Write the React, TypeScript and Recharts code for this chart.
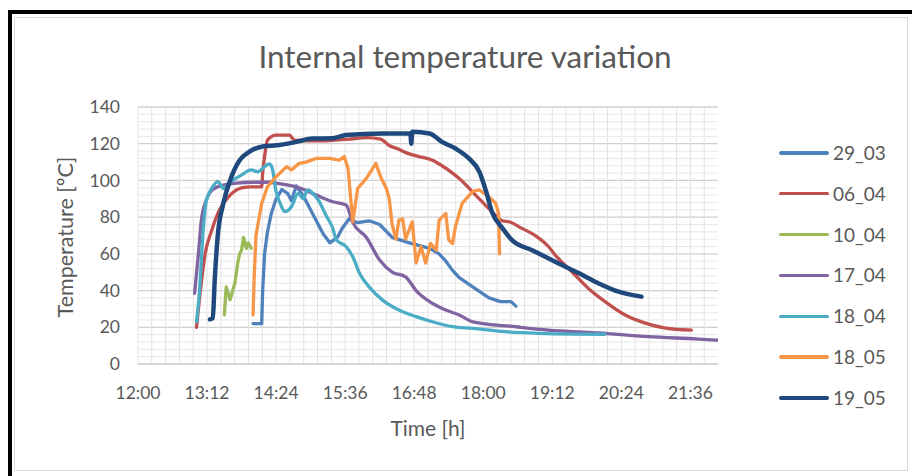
import { CartesianGrid, Line, LineChart, ReferenceLine, XAxis, YAxis } from "recharts";

type Pt = [string, number];

// readings per test day: [clock time, temperature ºC]
const day29_03: Pt[] = [
  ["14:00", 22], ["14:09", 22], ["14:10", 40], ["14:12", 60], ["14:15", 72],
  ["14:19", 82], ["14:24", 90], ["14:30", 95], ["14:36", 93], ["14:40", 89],
  ["14:45", 97], ["14:52", 92], ["14:59", 85], ["15:07", 77], ["15:13", 71],
  ["15:20", 66], ["15:28", 69], ["15:33", 74], ["15:40", 79], ["15:49", 77],
  ["16:01", 78], ["16:12", 76], ["16:25", 69], ["16:43", 66], ["17:04", 63],
  ["17:14", 60], ["17:21", 56], ["17:28", 51], ["17:35", 47], ["17:49", 42],
  ["18:06", 36], ["18:18", 34], ["18:29", 34], ["18:34", 31.5],
];

const day06_04: Pt[] = [
  ["13:01", 20], ["13:04", 35], ["13:10", 60], ["13:17", 73], ["13:25", 84],
  ["13:36", 92], ["13:48", 96], ["13:58", 96.5], ["14:09", 96.5], ["14:10", 104],
  ["14:12", 113], ["14:15", 122], ["14:24", 124.7], ["14:38", 124.7], ["14:43", 122],
  ["15:10", 121.5], ["15:40", 122.5], ["15:58", 123.3], ["16:13", 122.5], ["16:22", 119],
  ["16:32", 117], ["16:40", 115], ["16:53", 113], ["17:07", 111], ["17:17", 108],
  ["17:28", 104], ["17:35", 101], ["17:52", 92], ["18:09", 83], ["18:20", 78],
  ["18:27", 77.5], ["18:40", 74], ["18:51", 71], ["18:58", 68.6], ["19:08", 64],
  ["19:15", 59.4], ["19:33", 50], ["19:50", 41], ["20:07", 34], ["20:28", 26.7],
  ["20:49", 22.3], ["21:10", 19.6], ["21:37", 18.5],
];

const day10_04: Pt[] = [
  ["13:30", 26.7], ["13:32", 42], ["13:36", 35], ["13:41", 44], ["13:44", 55],
  ["13:46", 60], ["13:48", 62], ["13:50", 69], ["13:53", 63], ["13:55", 66],
  ["13:58", 63],
];

const day17_04: Pt[] = [
  ["12:59", 38.5], ["13:03", 60], ["13:06", 78], ["13:11", 89], ["13:18", 95],
  ["13:29", 97.5], ["13:43", 98.5], ["14:00", 99], ["14:17", 99], ["14:24", 98.5],
  ["14:48", 96], ["15:06", 92], ["15:23", 88.4], ["15:37", 86.6], ["15:44", 77],
  ["15:58", 69], ["16:12", 56.6], ["16:25", 50], ["16:39", 47.5], ["16:50", 40],
  ["17:07", 33], ["17:21", 29.4], ["17:35", 26.7], ["17:49", 23], ["18:34", 20.3],
  ["19:08", 18.5], ["20:00", 16.9], ["20:52", 14.9], ["21:44", 13.6], ["22:04", 13],
];

const day18_04: Pt[] = [
  ["13:01", 23], ["13:04", 38.6], ["13:08", 73], ["13:11", 88], ["13:15", 94],
  ["13:18", 96.6], ["13:23", 99.4], ["13:27", 97], ["13:29", 95.6], ["13:37", 99.4],
  ["13:48", 103], ["13:58", 105.7], ["14:05", 104.7], ["14:12", 107.5], ["14:17", 109],
  ["14:20", 106.6], ["14:24", 94], ["14:29", 86.6], ["14:33", 83], ["14:40", 85.7],
  ["14:47", 93], ["14:52", 90], ["14:57", 94.8], ["15:04", 92], ["15:09", 88.4],
  ["15:16", 81], ["15:23", 74], ["15:27", 67.5], ["15:37", 64], ["15:44", 58.4],
  ["15:51", 49.4], ["16:01", 42], ["16:15", 34.8], ["16:32", 29.4], ["16:50", 25.8],
  ["17:07", 23], ["17:28", 20.3], ["17:49", 19.4], ["18:23", 17.6], ["18:58", 16.7],
  ["19:33", 16.3], ["20:07", 16.2],
];

const day18_05: Pt[] = [
  ["14:00", 26.7], ["14:01", 45], ["14:03", 70], ["14:09", 87.5], ["14:15", 96.6],
  ["14:24", 102], ["14:35", 107.5], ["14:40", 105.7], ["14:48", 109.3], ["14:55", 110],
  ["15:06", 112], ["15:20", 112], ["15:30", 111], ["15:35", 113], ["15:39", 106.6],
  ["15:44", 77.5], ["15:49", 95.6], ["15:58", 101], ["16:08", 109.3], ["16:13", 102],
  ["16:19", 95.6], ["16:22", 90], ["16:25", 76], ["16:29", 68], ["16:32", 78.4],
  ["16:36", 79], ["16:39", 68], ["16:46", 77.5], ["16:50", 55], ["16:55", 64],
  ["17:00", 55], ["17:05", 65.7], ["17:11", 62], ["17:14", 78.4], ["17:21", 82],
  ["17:24", 67.5], ["17:28", 65.7], ["17:31", 74.8], ["17:38", 87.5], ["17:49", 94],
  ["17:56", 94.8], ["18:06", 91], ["18:13", 87.5], ["18:16", 82], ["18:17", 60],
];

const day19_05: Pt[] = [
  ["13:15", 24.3], ["13:18", 25], ["13:20", 45.7], ["13:23", 69], ["13:29", 87.5],
  ["13:36", 100], ["13:46", 111], ["13:56", 115.6], ["14:10", 118.5], ["14:28", 119.3],
  ["14:45", 121], ["15:02", 122.8], ["15:23", 123], ["15:37", 124.7], ["16:15", 125.6],
  ["16:44", 125.6], ["16:45", 120], ["16:46", 126.5], ["17:04", 125.6], ["17:17", 121],
  ["17:31", 117.4], ["17:45", 112], ["17:56", 104.7], ["18:03", 94], ["18:09", 83],
  ["18:20", 74], ["18:30", 67.5], ["18:51", 62], ["19:15", 55.7], ["19:40", 49.4],
  ["20:00", 44], ["20:21", 39.4], ["20:45", 36.7],
];

const seriesNames = ["29_03", "06_04", "10_04", "17_04", "18_04", "18_05", "19_05"];
const seriesData = [day29_03, day06_04, day10_04, day17_04, day18_04, day18_05, day19_05];
const seriesColors = ["#4F81BD", "#C0504D", "#9BBB59", "#8064A2", "#4BACC6", "#F79646", "#1F497D"];
const seriesWidths = [3.3, 3.3, 3.3, 3.3, 3.3, 3.3, 4.5];
const seriesCurve = ["linear", "monotone", "linear", "monotone", "monotone", "linear", "monotone"] as const;

const xTickLabels = ["12:00", "13:12", "14:24", "15:36", "16:48", "18:00", "19:12", "20:24", "21:36"];
const yTicks = [0, 20, 40, 60, 80, 100, 120, 140];

const toMin = (s: string) => {
  const [h, m] = s.split(":").map(Number);
  return h * 60 + m;
};
const fmtTime = (v: number) => {
  const h = Math.floor(v / 60);
  const m = Math.round(v - h * 60);
  return `${h}:${String(m).padStart(2, "0")}`;
};

const X_MIN = 720;
const X_MAX = 1324.8;
const xTicks = xTickLabels.map(toMin);
// minor gridlines: every 14.4 min and every 4 ºC
const minorX: number[] = [];
for (let k = 0; k <= 42; k++) minorX.push(X_MIN + k * 14.4);
const minorY: number[] = [];
for (let k = 0; k <= 35; k++) if (k % 5 !== 0) minorY.push(k * 4);

const FONT = "Lato, 'Open Sans', sans-serif";
const TEXT = "#595959";

export default function App() {
  return (
    <div
      style={{
        position: "absolute",
        left: 0,
        top: 0,
        width: 912,
        height: 476,
        overflow: "hidden",
        background: "#fff",
        fontFamily: FONT,
        color: TEXT,
      }}
    >
      {/* black frame (top/left) + chart area border */}
      <div
        style={{
          position: "absolute",
          left: 8,
          top: 10,
          width: 940,
          height: 500,
          borderLeft: "4px solid #000",
          borderTop: "4px solid #000",
        }}
      />
      <div
        style={{
          position: "absolute",
          left: 14,
          top: 17,
          width: 892,
          height: 452,
          border: "1px solid #d9d9d9",
        }}
      />

      <div
        style={{
          position: "absolute",
          left: 0,
          width: 930,
          top: 37,
          textAlign: "center",
          fontSize: 31.5,
          lineHeight: "38px",
        }}
      >
        Internal temperature variation
      </div>

      <div style={{ position: "absolute", left: 0, top: 0 }}>
        <LineChart
          width={912}
          height={476}
          margin={{ top: 107, right: 194, bottom: 82, left: 78 }}
        >
          {minorX.map((v) => (
            <ReferenceLine key={`mx${v}`} x={v} stroke="#e2e2e2" strokeWidth={1} />
          ))}
          {minorY.map((v) => (
            <ReferenceLine key={`my${v}`} y={v} stroke="#e8e8e8" strokeWidth={1} />
          ))}
          <CartesianGrid
            horizontalValues={yTicks}
            vertical={false}
            stroke="#d0d0d0"
            strokeWidth={1.3}
          />
          <XAxis
            type="number"
            dataKey="t"
            domain={[X_MIN, X_MAX]}
            ticks={xTicks}
            tickFormatter={fmtTime}
            allowDataOverflow
            height={30}
            tickLine={false}
            axisLine={{ stroke: "#d0d0d0" }}
            tickMargin={17}
            tick={{ fill: TEXT, fontSize: 17.5, fontFamily: FONT }}
          />
          <YAxis
            type="number"
            domain={[0, 140]}
            ticks={yTicks}
            width={60}
            axisLine={false}
            tickLine={false}
            tickMargin={12}
            tick={{ fill: TEXT, fontSize: 17.5, fontFamily: FONT }}
          />
          {seriesData.map((pts, i) => (
            <Line
              key={seriesNames[i]}
              data={pts.map(([t, v]) => ({ t: toMin(t), v }))}
              dataKey="v"
              name={seriesNames[i]}
              type={seriesCurve[i]}
              stroke={seriesColors[i]}
              strokeWidth={seriesWidths[i]}
              strokeLinejoin="round"
              strokeLinecap="round"
              dot={false}
              activeDot={false}
              isAnimationActive={false}
            />
          ))}
        </LineChart>
      </div>

      <div
        style={{
          position: "absolute",
          left: 65 - 120,
          top: 237 - 14,
          width: 240,
          height: 28,
          lineHeight: "28px",
          textAlign: "center",
          fontSize: 21.5,
          transform: "rotate(-90deg)",
        }}
      >
        Temperature [ºC]
      </div>
      <div
        style={{
          position: "absolute",
          left: 428 - 100,
          top: 428 - 14,
          width: 200,
          lineHeight: "28px",
          textAlign: "center",
          fontSize: 21,
        }}
      >
        Time [h]
      </div>

      {/* legend */}
      {seriesNames.map((name, i) => (
        <div
          key={name}
          style={{
            position: "absolute",
            left: 779,
            top: 153 + i * 40.8 - 12,
            height: 24,
            display: "flex",
            alignItems: "center",
          }}
        >
          <div
            style={{
              width: 50,
              height: seriesWidths[i],
              background: seriesColors[i],
              borderRadius: 2,
            }}
          />
          <span style={{ marginLeft: 4, fontSize: 19, lineHeight: "24px" }}>{name}</span>
        </div>
      ))}
    </div>
  );
}
